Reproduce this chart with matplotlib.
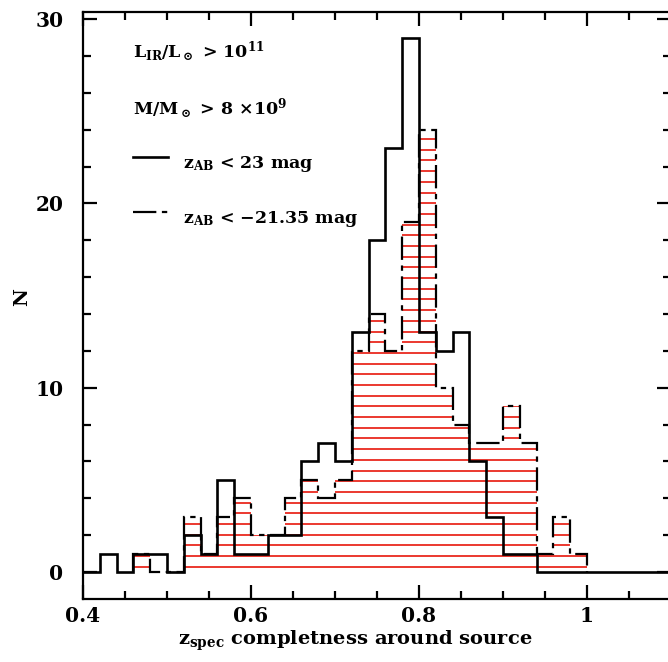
import numpy as np
import matplotlib
matplotlib.use("Agg")
import matplotlib.pyplot as plt
from matplotlib.ticker import MultipleLocator, FixedLocator, FuncFormatter

plt.rcParams['font.family'] = ['DejaVu Serif']
plt.rcParams['font.weight'] = 'bold'
plt.rcParams['mathtext.fontset'] = 'custom'
plt.rcParams['mathtext.rm'] = 'DejaVu Serif:bold'
plt.rcParams['mathtext.it'] = 'DejaVu Serif:bold'
plt.rcParams['mathtext.bf'] = 'DejaVu Serif:bold'

# histogram data, bins of 0.02
edges_all = np.round(np.arange(0.40, 1.1001, 0.02), 2)
n_all = [0, 1, 0, 1, 1, 0, 2, 1, 5, 1, 1, 2, 2, 6, 7, 6, 13, 18, 23, 29,
         13, 12, 13, 6, 3, 1, 1, 0, 0, 0, 0, 0, 0, 0, 0]   # z_AB < 23 mag

edges_abs = np.round(np.arange(0.46, 1.0001, 0.02), 2)
n_abs = [1, 0, 0, 3, 1, 3, 4, 2, 2, 4, 5, 4, 5, 12, 14, 12, 19, 24,
         10, 8, 7, 7, 9, 7, 1, 3, 1]                        # z_AB < -21.35 mag

hatch_levels = np.arange(0.29, 30, 0.58)

fig = plt.figure(figsize=(6.68, 6.62), dpi=100)
ax = fig.add_axes([83/668, 63/662, 588/668, 587.3/662])

# red hatching clipped to the second histogram
clip = ax.stairs(n_abs, edges_abs, fill=True, facecolor='none', edgecolor='none')
hl = ax.hlines(hatch_levels, edges_abs[0], edges_abs[-1], colors='#e8160c', lw=1.2, zorder=1)
hl.set_clip_path(clip)

ax.stairs(n_all, edges_all, color='black', lw=1.9, zorder=3)
ax.stairs(n_abs, edges_abs, color='black', lw=1.6, zorder=3,
          linestyle=(0, (10.5, 2.5, 2.4, 2.5)))

ax.set_xlim(0.4, 1.1)
ax.set_ylim(-1.46, 30.4)

ax.xaxis.set_major_locator(FixedLocator([0.4, 0.6, 0.8, 1.0]))
ax.xaxis.set_minor_locator(MultipleLocator(0.05))
ax.xaxis.set_major_formatter(FuncFormatter(lambda v, p: f'{v:g}'))
ax.yaxis.set_major_locator(MultipleLocator(10))
ax.yaxis.set_minor_locator(MultipleLocator(2))
ax.tick_params(which='both', direction='in', top=True, right=True, width=1.6,
               labelsize=14.5)
ax.tick_params(which='major', length=10)
ax.tick_params(which='minor', length=6)
ax.tick_params(axis='x', pad=5)
ax.tick_params(axis='y', pad=14)
for s in ax.spines.values():
    s.set_linewidth(1.6)

# legend / annotations
fs = 12.5
ax.text(0.085, 0.921, r'L$_{\rm IR}$/L$_\odot$ > 10$^{11}$', transform=ax.transAxes,
        fontsize=fs, va='baseline')
ax.text(0.085, 0.824, r'M/M$_\odot$ > 8 $\times$10$^{9}$', transform=ax.transAxes,
        fontsize=fs, va='baseline')
ax.plot([0.085, 0.145], [0.7526, 0.7526], color='black', lw=1.9, transform=ax.transAxes)
ax.text(0.17, 0.734, r'z$_{\rm AB}$ < 23 mag', transform=ax.transAxes,
        fontsize=fs, va='baseline')
ax.plot([0.085, 0.145], [0.659, 0.659], color='black', lw=1.6, transform=ax.transAxes,
        linestyle=(0, (10.5, 2.5, 2.4, 2.5)))
ax.text(0.17, 0.640, r'z$_{\rm AB}$ < $-$21.35 mag', transform=ax.transAxes,
        fontsize=fs, va='baseline')

fig.text(355/668, (662-645)/662, r'z$_{\rm spec}$ completness around source',
         ha='center', va='baseline', fontsize=14)
fig.text(22/668, (662-297)/662, 'N', rotation=90, ha='center', va='center', fontsize=14)

fig.savefig('out.png', dpi=100)
